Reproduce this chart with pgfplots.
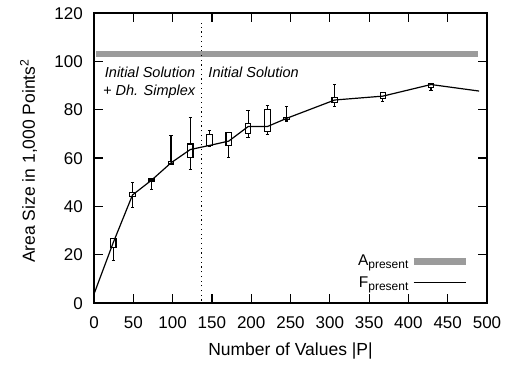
\documentclass[border=0pt]{standalone}
\usepackage{fontspec}
\setmainfont{Liberation Sans}
\usepackage{pgfplots}
\pgfplotsset{compat=1.18}
\usepgfplotslibrary{statistics}
\definecolor{bandgray}{RGB}{155,155,155}
\newcommand{\bp}[6]{\addplot+[forget plot, black, solid, line width=1.1pt, mark=none,
  boxplot/draw direction=y,
  boxplot prepared={draw position=#1, lower whisker=#2, lower quartile=#3, median=#4,
  upper quartile=#5, upper whisker=#6, box extend=7, whisker extend=4,
  every median/.style={draw=none}}] coordinates {};}
\begin{document}
\begin{tikzpicture}
\begin{axis}[
  at={(0pt,0pt)}, anchor=south west,
  scale only axis, width=393pt, height=290pt,
  xmin=0, xmax=500, ymin=0, ymax=120,
  xtick={0,50,...,500}, ytick={0,20,...,120},
  tick align=inside, major tick length=9pt,
  axis line style={line width=1.5pt},
  every tick/.style={black, line width=1.2pt},
  /pgf/number format/assume math mode=true,
  tick label style={font=\fontsize{17}{19}\selectfont},
  xticklabel style={anchor=base, inner sep=0pt, yshift=-25pt},
  yticklabel style={anchor=base east, inner sep=0pt, xshift=-11pt, yshift=-6.1pt},
  every axis x label/.style={at={(axis description cs:0.5,0)}, anchor=base, yshift=-52pt, font=\fontsize{17.5}{19}\selectfont},
  every axis y label/.style={at={(axis description cs:0,0.5)}, rotate=90, anchor=base, yshift=59pt, xshift=-3pt, font=\fontsize{17.5}{19}\selectfont},
  xlabel={Number of Values |P|},
  ylabel={Area Size in 1,000 Points\textsuperscript{2}},
  clip=false,
  legend plot pos=right,
  legend cell align=right,
  legend style={draw=none, fill=none, at={(0.962,0.035)}, anchor=south east,
    font=\fontsize{15.5}{16}\selectfont, row sep=5pt},
  legend image code/.code={\draw[#1] (0pt,0pt) -- (52pt,0pt);},
]
% A_present band
\addplot[bandgray, line width=6.5pt] coordinates {(3,103) (488,103)};
\addlegendentry{A\raisebox{-3pt}{\fontsize{12}{12}\selectfont present}}
% F_present line
\addplot[black, line width=1.2pt] coordinates {
(0,3.7) (24.5,25) (49,44.7) (73.5,50.9) (98,58) (122.5,63.5) (147,65.2) (171.5,67)
(196,73) (220.5,73) (245,76.4) (306.25,84) (367.5,85.6) (428.75,90.4) (490,87.7)};
\addlegendentry{F\raisebox{-3pt}{\fontsize{12}{12}\selectfont present}}
% dotted separator
\addplot[forget plot, black, line width=1.2pt, dash pattern=on 1.2pt off 3.5pt] coordinates {(137,1) (137,116)};
% box plots
\bp{24.5}{17.5}{23}{25}{26.8}{26.8}
\bp{49}{39.6}{44}{44.7}{45.6}{49.8}
\bp{73.5}{46.8}{50.5}{50.9}{51.3}{51.5}
\bp{98}{57.5}{57.5}{58}{58.5}{69.2}
\bp{122.5}{55.3}{60.3}{63.5}{65.8}{76.8}
\bp{147}{64.7}{65.1}{65.2}{69.9}{71.3}
\bp{171.5}{60.3}{65.1}{67}{70.5}{70.5}
\bp{196}{68.4}{70.2}{73}{74.1}{79.6}
\bp{220.5}{69.9}{70.9}{73}{79.9}{81.6}
\bp{245}{75.3}{76}{76.4}{76.8}{81.2}
\bp{306.25}{81.2}{82.9}{84}{84.9}{90.5}
\bp{367.5}{83.3}{84.7}{85.6}{87}{87}
\bp{428.75}{87.8}{89.2}{90.4}{90.9}{90.9}
\node[anchor=base east, inner sep=0pt, font=\fontsize{14.5}{15}\selectfont\itshape] at (axis cs:129,93.5) {Initial Solution};
\node[anchor=base east, inner sep=0pt, font=\fontsize{14.5}{15}\selectfont\itshape] at (axis cs:129,86) {+ Dh. Simplex};
\node[anchor=base west, inner sep=0pt, font=\fontsize{14.5}{15}\selectfont\itshape] at (axis cs:145.4,93.5) {Initial Solution};
\end{axis}
\pgfresetboundingbox
\useasboundingbox (-94pt,-69pt) rectangle (414pt,303pt);
\end{tikzpicture}
\end{document}
